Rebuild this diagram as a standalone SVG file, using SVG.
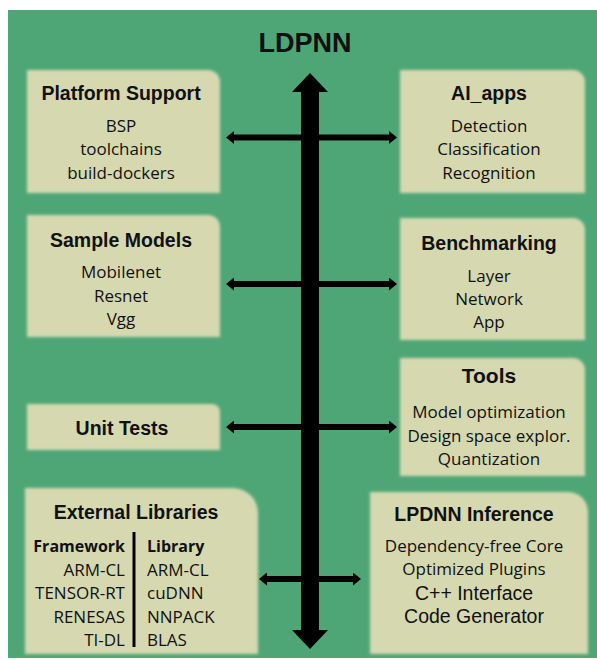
<svg xmlns="http://www.w3.org/2000/svg" width="597" height="660" viewBox="0 0 597 660">
<defs>
<filter id="soft" x="-5%" y="-5%" width="110%" height="110%"><feGaussianBlur stdDeviation="1.6"/></filter>
<marker id="ah" viewBox="0 -6.5 8 13" refX="0" refY="0" markerWidth="8" markerHeight="13" markerUnits="userSpaceOnUse" orient="auto-start-reverse"><path d="M0,-6.5 L8,0 L0,6.5 Z" fill="#000"/></marker>
<style>
.box{fill:#d6d9b0;filter:url(#soft)}
.h{font-family:"Liberation Sans",Arial,sans-serif;font-weight:bold;font-size:19.5px;fill:#111;text-anchor:middle}
.b{font-family:"Open Sans","Noto Sans",sans-serif;font-size:17px;fill:#111;text-anchor:middle}
.a{font-family:"Liberation Sans",Arial,sans-serif;font-size:19.5px;fill:#111;text-anchor:middle}
.c{fill:none;stroke:#000;stroke-width:6;marker-start:url(#ah);marker-end:url(#ah)}
</style>
</defs>
<rect x="8" y="10" width="589" height="648" fill="#4ea676"/>
<text x="305" y="52" class="h" style="font-size:27px">LDPNN</text>

<g id="platform-support">
<path class="box" d="M27,70 H208 A12,12 0 0 1 220,82 V193 H27 Z"/>
<text x="121" y="100" class="h">Platform Support</text>
<text x="121" y="132" class="b">BSP</text>
<text x="121" y="155" class="b">toolchains</text>
<text x="121" y="179" class="b">build-dockers</text>
</g>
<g id="ai-apps">
<path class="box" d="M400,70 H573 A12,12 0 0 1 585,82 V193 H400 Z"/>
<text x="489" y="100" class="h">AI_apps</text>
<text x="489" y="132" class="b">Detection</text>
<text x="489" y="155" class="b">Classification</text>
<text x="489" y="179" class="b">Recognition</text>
</g>
<g id="sample-models">
<path class="box" d="M27,215 H208 A12,12 0 0 1 220,227 V337 H27 Z"/>
<text x="121" y="247" class="h">Sample Models</text>
<text x="121" y="278" class="b">Mobilenet</text>
<text x="121" y="302" class="b">Resnet</text>
<text x="121" y="325" class="b">Vgg</text>
</g>
<g id="benchmarking">
<path class="box" d="M400,218 H573 A12,12 0 0 1 585,230 V340 H400 Z"/>
<text x="489" y="250" class="h">Benchmarking</text>
<text x="489" y="282" class="b">Layer</text>
<text x="489" y="305" class="b">Network</text>
<text x="489" y="328" class="b">App</text>
</g>
<g id="unit-tests">
<path class="box" d="M27,404 H212 A8,8 0 0 1 220,412 V450 H27 Z"/>
<text x="122" y="435" class="h">Unit Tests</text>
</g>
<g id="tools">
<path class="box" d="M400,358 H573 A12,12 0 0 1 585,370 V476 H400 Z"/>
<text x="489" y="383" class="h" style="font-size:21px">Tools</text>
<text x="489" y="418" class="b">Model optimization</text>
<text x="489" y="442" class="b">Design space explor.</text>
<text x="489" y="465" class="b">Quantization</text>
</g>
<g id="external-libraries">
<path class="box" d="M25,488 H233 A25,25 0 0 1 258,513 V654 H25 Z"/>
<text x="136" y="519" class="h">External Libraries</text>
<line x1="134" y1="532" x2="134" y2="647" stroke="#000" stroke-width="3"/>
<g class="b" style="text-anchor:end">
<text x="125" y="552" style="font-weight:bold;font-size:16px">Framework</text>
<text x="125" y="576">ARM-CL</text>
<text x="125" y="599">TENSOR-RT</text>
<text x="125" y="623">RENESAS</text>
<text x="125" y="646">TI-DL</text>
</g>
<g class="b" style="text-anchor:start">
<text x="147" y="552" style="font-weight:bold;font-size:16px">Library</text>
<text x="147" y="576">ARM-CL</text>
<text x="147" y="599">cuDNN</text>
<text x="147" y="623">NNPACK</text>
<text x="147" y="646">BLAS</text>
</g>
</g>
<g id="lpdnn-inference">
<path class="box" d="M370,492 H568 A20,20 0 0 1 588,512 V654 H370 Z"/>
<text x="474" y="521" class="h">LPDNN Inference</text>
<text x="474" y="552" class="b">Dependency-free Core</text>
<text x="474" y="575" class="b">Optimized Plugins</text>
<text x="474" y="600" class="a">C++ Interface</text>
<text x="474" y="623" class="a">Code Generator</text>
</g>

<g id="connectors">
<line class="c" x1="234" y1="137.5" x2="389" y2="137.5"/>
<line class="c" x1="234" y1="284" x2="389" y2="284"/>
<line class="c" x1="234" y1="427" x2="389" y2="427"/>
<line class="c" x1="267" y1="579" x2="353" y2="579"/>
<path d="M310,73 L328,92 L319,92 L319,630 L328,630 L310,649 L292,630 L301,630 L301,92 L292,92 Z" fill="#000"/>
</g>
</svg>
